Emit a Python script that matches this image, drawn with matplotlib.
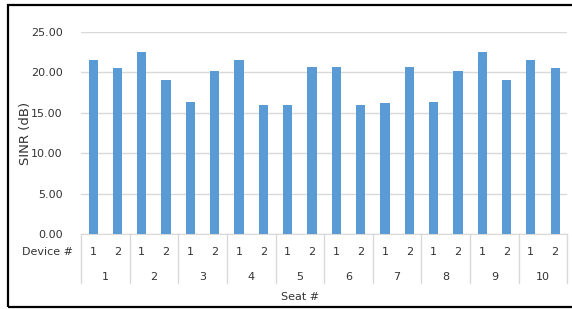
import matplotlib.pyplot as plt
import matplotlib.transforms as mtransforms
from matplotlib.patches import Rectangle

# datos
seats = ["1", "2", "3", "4", "5", "6", "7", "8", "9", "10"]
devices = ["1", "2"]
sinr = [21.5, 20.6, 22.5, 19.0, 16.3, 20.2, 21.5, 16.0, 16.0, 20.7,
        20.7, 16.0, 16.2, 20.7, 16.3, 20.2, 22.5, 19.0, 21.5, 20.6]
yticks = [0, 5, 10, 15, 20, 25]

W, H = 572, 309
txt = "#333333"
fig = plt.figure(figsize=(W / 100, H / 100), dpi=100)
plt.rcParams['font.family'] = 'DejaVu Sans'

ax = fig.add_axes([81 / W, (H - 234) / H, (567.3 - 81) / W, (234 - 32) / H])

x = list(range(len(sinr)))
ax.bar(x, sinr, width=0.38, color="#5b9bd5", zorder=3)

ax.set_xlim(-0.5, len(sinr) - 0.5)
ax.set_ylim(0, 25)
ax.set_yticks(yticks)
ax.set_yticklabels([f"{v:.2f}" for v in yticks], fontsize=8, color=txt)
ax.tick_params(axis="y", length=0, pad=13)
ax.grid(axis="y", color="#d9d9d9", linewidth=1, zorder=0)

for s in ["top", "right", "left"]:
    ax.spines[s].set_visible(False)
ax.spines["bottom"].set_color("#d9d9d9")
ax.set_xticks([])

# etiquetas de categoría en dos niveles
px = 1 / (234 - 32)
trans = mtransforms.blended_transform_factory(ax.transData, ax.transAxes)
for i in x:
    ax.text(i, -18 * px, devices[i % 2], transform=trans, fontsize=8,
            color=txt, ha="center", va="center")
for i, seat in enumerate(seats):
    ax.text(2 * i + 0.5, -43 * px, seat, transform=trans, fontsize=8,
            color=txt, ha="center", va="center")
for k in range(len(seats) + 1):
    ax.plot([2 * k - 0.5, 2 * k - 0.5], [0, -49 * px], transform=trans,
            color="#d9d9d9", linewidth=1, clip_on=False)

fig.text(73 / W, 1 - 252 / H, "Device #", fontsize=8, color=txt,
         ha="right", va="center")
fig.text(300 / W, 1 - 297 / H, "Seat #", fontsize=8, color=txt,
         ha="center", va="center")
fig.text(25 / W, 1 - 133 / H, "SINR (dB)", fontsize=9.5, color=txt,
         ha="center", va="center", rotation=90)

fig.patches.append(Rectangle((8 / W, 2 / H), 1.0, 1 - 6.5 / H,
                             transform=fig.transFigure, fill=False,
                             edgecolor="black", linewidth=1.6))

fig.savefig("out.png", dpi=100)
